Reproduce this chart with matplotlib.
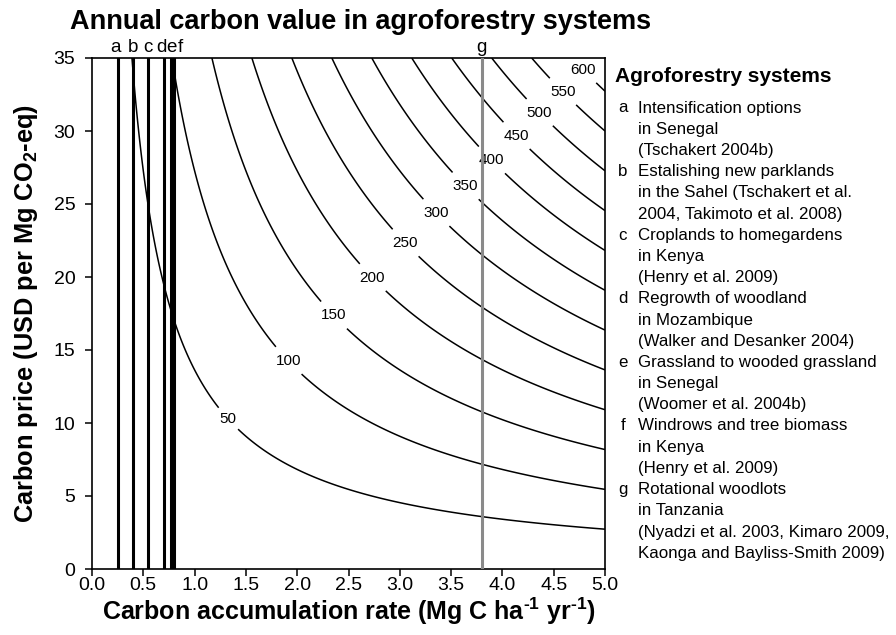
import numpy as np
import matplotlib
matplotlib.use("Agg")
import matplotlib.pyplot as plt

plt.rcParams['font.family'] = ['Liberation Sans', 'DejaVu Sans']
plt.rcParams['mathtext.fontset'] = 'custom'
plt.rcParams['mathtext.bf'] = 'Liberation Sans:bold'
plt.rcParams['mathtext.rm'] = 'Liberation Sans:bold'
plt.rcParams['mathtext.default'] = 'bf'

# carbon value contours (USD per ha per yr)
levels = [50, 100, 150, 200, 250, 300, 350, 400, 450, 500, 550, 600]
label_x = [1.39, 1.95, 2.39, 2.77, 3.08, 3.37, 3.65, 3.91, 4.14, 4.36, 4.59, 4.77]
label_y = [10.7, 14.5, 17.6, 20.2, 22.5, 24.5, 26.3, 28.1, 29.7, 31.25, 32.7, 34.1]
co2_per_c = 44 / 12

# agroforestry systems: accumulation rates (Mg C / ha / yr)
systems = ['a', 'b', 'c', 'd', 'e', 'f', 'g']
rates = [0.25, 0.40, 0.55, 0.70, 0.77, 0.80, 3.80]
letter_x = [0.23, 0.40, 0.55, 0.68, 0.775, 0.865, 3.80]

descriptions = [
    ["Intensification options", "in Senegal", "(Tschakert 2004b)"],
    ["Estalishing new parklands", "in the Sahel (Tschakert et al.", "2004, Takimoto et al. 2008)"],
    ["Croplands to homegardens", "in Kenya", "(Henry et al. 2009)"],
    ["Regrowth of woodland", "in Mozambique", "(Walker and Desanker 2004)"],
    ["Grassland to wooded grassland", "in Senegal", "(Woomer et al. 2004b)"],
    ["Windrows and tree biomass", "in Kenya", "(Henry et al. 2009)"],
    ["Rotational woodlots", "in Tanzania", "(Nyadzi et al. 2003, Kimaro 2009,",
     "Kaonga and Bayliss-Smith 2009)"],
]

W, H = 896, 635
fig = plt.figure(figsize=(W / 100, H / 100), dpi=100)
ax = fig.add_axes([92 / W, 1 - 569 / H, 513 / W, 511 / H])

xx = np.linspace(0.01, 5, 600)
yy = np.linspace(0.01, 35, 600)
X, Y = np.meshgrid(xx, yy)
Z = X * co2_per_c * Y

cs = ax.contour(X, Y, Z, levels=levels, colors='black', linewidths=1.1)
labels = ax.clabel(cs, fmt='%d', fontsize=11, inline=True, inline_spacing=6,
                   manual=list(zip(label_x, label_y)))
for t in labels:
    t.set_rotation(0)
    t.set_bbox(dict(facecolor='white', edgecolor='none', pad=0.5))

for s, r, lx in zip(systems, rates, letter_x):
    if s == 'g':
        ax.axvline(r, color='#8a8a8a', lw=2.2, zorder=5)
    else:
        ax.axvline(r, color='black', lw=2.2, zorder=5)
    ax.text(lx, 1.004, s, transform=ax.get_xaxis_transform(), ha='center', va='bottom',
            fontsize=13.5)

ax.set_xlim(0, 5)
ax.set_ylim(0, 35)
ax.set_xticks(np.arange(0, 5.01, 0.5))
ax.set_xticklabels(["%.1f" % v for v in np.arange(0, 5.01, 0.5)])
ax.set_yticks(np.arange(0, 36, 5))
ax.tick_params(direction='out', length=5, width=1.1, labelsize=14)
ax.tick_params(axis='x', pad=1)
ax.tick_params(axis='y', pad=7)
for sp in ax.spines.values():
    sp.set_linewidth(1.2)

ax.set_xlabel(r"Carbon accumulation rate (Mg C ha$^{\text{-1}}$ yr$^{\text{-1}}$)",
              fontsize=18, fontweight='bold', labelpad=1)
ax.set_ylabel(r"Carbon price (USD per Mg CO$_{2}$-eq)",
              fontsize=18.3, fontweight='bold', labelpad=10)

fig.text(361 / W, 1 - 22 / H, "Annual carbon value in agroforestry systems",
         ha='center', va='center', fontsize=19.5, fontweight='bold')

# side legend
fig.text(615 / W, 1 - 76 / H, "Agroforestry systems", ha='left', va='center',
         fontsize=15, fontweight='bold')
row = 0
for s, lines in zip(systems, descriptions):
    fig.text(622.7 / W, 1 - (108 + row * 21.2) / H, s, ha='center', va='center',
             fontsize=12.2)
    for ln in lines:
        fig.text(637.7 / W, 1 - (108 + row * 21.2) / H, ln, ha='left', va='center',
                 fontsize=12.2)
        row += 1

fig.savefig("out.png", dpi=100)
